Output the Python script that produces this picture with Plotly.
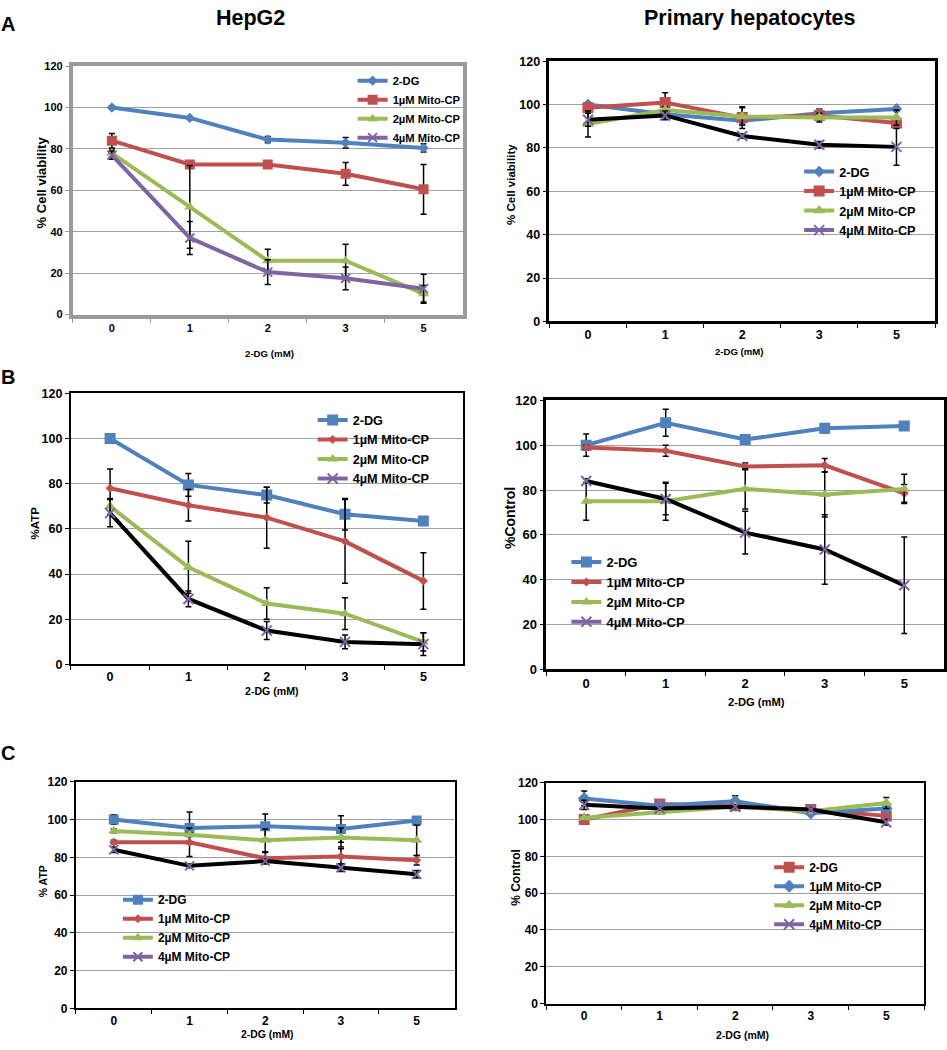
import plotly.graph_objects as go

W, H = 947, 1050
doses = ["0", "1", "2", "3", "5"]
y_ticks = [0, 20, 40, 60, 80, 100, 120]
series_names = ["2-DG", "1µM Mito-CP", "2µM Mito-CP", "4µM Mito-CP"]

# Panel A left: HepG2 cell viability
a1_vals = [[100, 95, 84.5, 83, 80.5],
           [84, 72.5, 72.5, 68, 60.5],
           [78, 52, 26, 26, 10],
           [77, 37, 20.5, 17.5, 12.5]]
a1_err = [[0, 0, 1.5, 2.5, 2],
          [3.5, 0, 0, 5.5, 12],
          [2, 20, 5.5, 8, 4],
          [2, 8, 6, 5.5, 7]]
# Panel A right: primary hepatocytes cell viability
a2_vals = [[100, 95.5, 92.5, 96, 98],
           [98.5, 101, 94, 95, 91.5],
           [91, 97.5, 94.5, 94, 94],
           [93, 95, 85.5, 81.5, 80.5]]
a2_err = [[1, 1, 1.5, 2, 1],
          [2, 4.5, 5, 2, 2],
          [6, 1.5, 4, 2, 3.5],
          [3, 2, 1, 1.5, 8.5]]
# Panel B left: HepG2 %ATP
b1_vals = [[100, 79.5, 75, 66.5, 63.5],
           [78, 70.5, 65, 54.5, 37],
           [70, 43, 27, 22.5, 10],
           [67, 29, 15, 10, 9]]
b1_err = [[0, 5, 3.5, 7, 0],
          [8.5, 7, 13.5, 18.5, 12.5],
          [3.5, 11.5, 7, 7, 4],
          [6, 3.5, 4, 3, 5]]
# Panel B right: primary hepatocytes %Control
b2_vals = [[100, 110, 102.5, 107.5, 108.5],
           [99, 97.5, 90.5, 91, 78.5],
           [75, 75, 80.5, 78, 80.5],
           [84, 76, 61, 53.5, 37.5]]
b2_err = [[5, 6, 1, 2, 1],
          [1, 2.5, 1.5, 3, 4],
          [8.5, 8.5, 9, 10, 6.5],
          [1, 7, 9.5, 15.5, 21.5]]
# Panel C left: HepG2 % ATP
c1_vals = [[100, 95.5, 96.5, 95, 99.5],
           [88, 88, 79.5, 80.5, 78.5],
           [94, 92, 89, 90.5, 89],
           [84, 75.5, 78, 74.5, 71]]
c1_err = [[2.5, 8.5, 6.5, 7, 2],
          [1, 7.5, 3, 4, 2.5],
          [1, 1, 6, 5, 8],
          [1.5, 1, 1, 2, 2]]
# Panel C right: primary hepatocytes % Control
c2_vals = [[100, 108.5, 107.5, 105.5, 102],
           [111.5, 107.5, 110, 103.5, 106],
           [101, 104, 107, 104.5, 109],
           [108, 106, 107, 105.5, 98.5]]
c2_err = [[1, 1, 1, 1, 2],
          [4, 1, 3, 1, 1],
          [1, 1, 1, 1, 3],
          [2.5, 1, 1, 1, 1.5]]

BLUE, RED, GREEN, PURPLE = "#4F81BD", "#C0504D", "#9BBB59", "#8064A2"
FONT = "Arial, Liberation Sans, sans-serif"

# panel layout in pixels
panels = [
    dict(vals=a1_vals, err=a1_err, box=(73, 463, 60, 312), colors=[BLUE, RED, GREEN, PURPLE],
         symbols=["diamond", "square", "triangle-up", "x-thin"], sizes=[8, 10, 10, 9], line4=PURPLE,
         frame="#9a9a9a", fw=4, tfs=11, ytitle="% Cell viability", ytfs=13, yt=(42, 178),
         xtfs=9.7, xt=(270, 352), leg=(353, 72), legfs=11.2),
    dict(vals=a2_vals, err=a2_err, box=(550, 936, 55, 319), colors=[BLUE, RED, GREEN, PURPLE],
         symbols=["diamond", "square", "triangle-up", "x-thin"], sizes=[9, 11, 11, 10], line4="black",
         frame="black", fw=2.5, tfs=12.5, ytitle="% Cell viability", ytfs=11.5, yt=(512, 180),
         xtfs=9.6, xt=(740, 349), leg=(800, 164), legfs=12.7),
    dict(vals=b1_vals, err=b1_err, box=(71, 463, 392, 667), colors=[BLUE, RED, GREEN, PURPLE],
         symbols=["square", "diamond", "triangle-up", "x-thin"], sizes=[11, 7, 10, 10], line4="black",
         frame="black", fw=2, tfs=12.5, ytitle="%ATP", ytfs=11.5, yt=(35, 523),
         xtfs=10.6, xt=(272, 694), leg=(313, 416), legfs=12.7),
    dict(vals=b2_vals, err=b2_err, box=(547, 945, 399, 672), colors=[BLUE, RED, GREEN, PURPLE],
         symbols=["square", "diamond", "triangle-up", "x-thin"], sizes=[11, 7, 10, 10], line4="black",
         frame="black", fw=2.5, tfs=13, ytitle="%Control", ytfs=14, yt=(510, 518),
         xtfs=11.2, xt=(757, 705), leg=(567, 560), legfs=13),
    dict(vals=c1_vals, err=c1_err, box=(76, 455, 786, 1016), colors=[BLUE, RED, GREEN, PURPLE],
         symbols=["square", "diamond", "triangle-up", "x-thin"], sizes=[10, 7, 10, 9], line4="black",
         frame="black", fw=2, tfs=12, ytitle="% ATP", ytfs=10.5, yt=(43, 887),
         xtfs=10.4, xt=(268, 1042), leg=(118, 903), legfs=12),
    dict(vals=c2_vals, err=c2_err, box=(547, 925, 787, 1011), colors=[RED, BLUE, GREEN, PURPLE],
         symbols=["square", "diamond", "triangle-up", "x-thin"], sizes=[11, 10, 11, 10], line4="black",
         frame="black", fw=2, tfs=12, ytitle="% Control", ytfs=12, yt=(517, 883),
         xtfs=10.5, xt=(743, 1043), leg=(770, 870), legfs=12),
]

fig = go.Figure()
layout = dict(width=W, height=H, margin=dict(l=0, r=0, t=0, b=0), autosize=False,
              paper_bgcolor="white", plot_bgcolor="white", showlegend=True,
              font=dict(family=FONT, color="black"))
annotations = []

for i, p in enumerate(panels):
    n = "" if i == 0 else str(i + 1)
    xa, ya = "x" + n, "y" + n
    leg = "legend" + n
    x0, x1, y0, y1 = p["box"]
    for k in range(4):
        col = p["colors"][k]
        linecol = col if k < 3 else p["line4"]
        mk = dict(symbol=p["symbols"][k], size=p["sizes"][k], color=col)
        if p["symbols"][k] == "x-thin":
            mk["line"] = dict(color=PURPLE, width=2)
        fig.add_trace(go.Scatter(
            x=doses, y=p["vals"][k], xaxis=xa, yaxis=ya, mode="lines+markers",
            line=dict(color=linecol, width=4), marker=mk,
            error_y=dict(type="data", array=p["err"][k], color="black", thickness=1.5, width=3),
            name=series_names[k], legend=leg, showlegend=(k < 3 or p["line4"] == col)))
        if k == 3 and p["line4"] != col:
            # legend entry drawn in the series colour, as in the original legend
            fig.add_trace(go.Scatter(
                x=[None], y=[None], xaxis=xa, yaxis=ya, mode="lines+markers",
                line=dict(color=col, width=4), marker=mk, name=series_names[k], legend=leg))
    tickfont = dict(size=p["tfs"], family=FONT, weight="bold")
    layout["xaxis" + n] = dict(domain=[x0 / W, x1 / W], anchor=ya, type="category",
                               range=[-0.5, 4.5], tickson="boundaries", ticks="outside", ticklen=4,
                               tickcolor=p["frame"], showline=True, mirror=True, linecolor=p["frame"],
                               linewidth=p["fw"], showgrid=False, zeroline=False, tickfont=tickfont)
    layout["yaxis" + n] = dict(domain=[1 - y1 / H, 1 - y0 / H], anchor=xa, range=[0, 120],
                               tickvals=y_ticks, ticks="outside", ticklen=4, tickcolor=p["frame"],
                               showline=True, mirror=True, linecolor=p["frame"], linewidth=p["fw"],
                               showgrid=True, gridcolor="#a0a0a0", gridwidth=1, zeroline=False,
                               tickfont=tickfont)
    layout[leg] = dict(x=p["leg"][0] / W, y=1 - (p["leg"][1] - 12) / H, xanchor="left", yanchor="top",
                       bgcolor="rgba(0,0,0,0)", borderwidth=0, itemwidth=30, tracegroupgap=0,
                       font=dict(size=p["legfs"], family=FONT, weight="bold"))
    annotations.append(dict(text="<b>%s</b>" % p["ytitle"], xref="paper", yref="paper",
                            x=p["yt"][0] / W, y=1 - p["yt"][1] / H, textangle=-90, showarrow=False,
                            font=dict(size=p["ytfs"], family=FONT), xanchor="center", yanchor="middle"))
    annotations.append(dict(text="<b>2-DG (mM)</b>", xref="paper", yref="paper",
                            x=p["xt"][0] / W, y=1 - p["xt"][1] / H, showarrow=False,
                            font=dict(size=p["xtfs"], family=FONT), xanchor="center", yanchor="middle"))

for txt, x, y, s in [("HepG2", 251, 11, 21.5), ("Primary hepatocytes", 751, 11, 21.5),
                     ("A", 8, 17, 20), ("B", 8, 375, 20), ("C", 8, 757, 20)]:
    annotations.append(dict(text="<b>%s</b>" % txt, xref="paper", yref="paper", x=x / W, y=1 - y / H,
                            showarrow=False, font=dict(size=s, family=FONT), xanchor="center",
                            yanchor="middle"))

layout["annotations"] = annotations
fig.update_layout(**layout)
fig.write_html("out.html", config={"displayModeBar": False},
               post_script="document.body.style.margin='0';")
